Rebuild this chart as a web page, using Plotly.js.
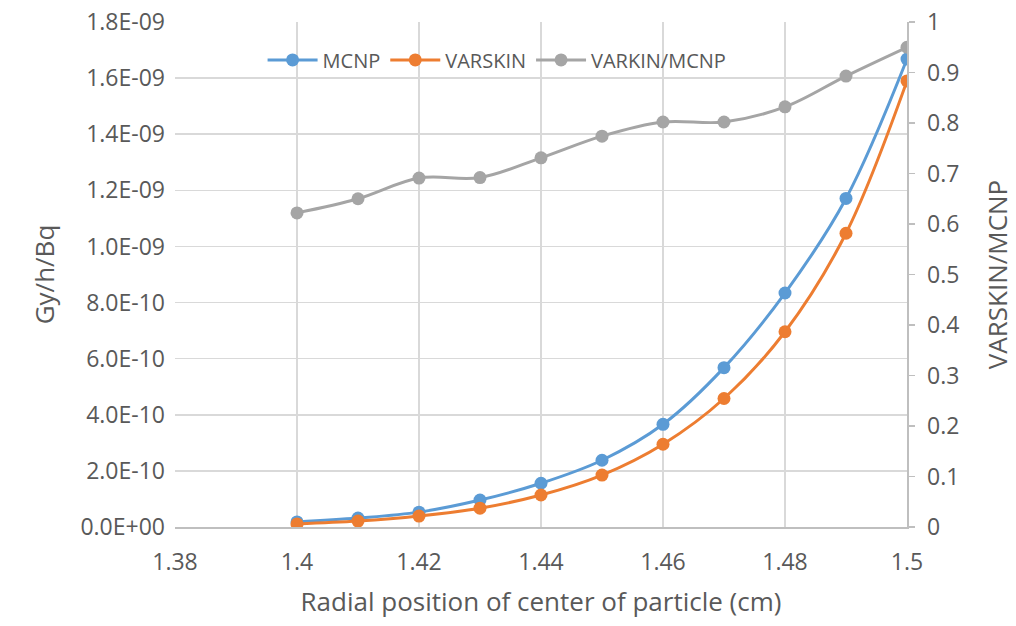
<!DOCTYPE html>
<html>
<head>
<meta charset="utf-8">
<script src="https://cdn.plot.ly/plotly-3.0.1.min.js"></script>
<style>html,body{margin:0;padding:0;background:#fff;}#chart{width:1016px;height:626px;}</style>
</head>
<body>
<div id="chart"></div>
<script>
const radius = [1.40, 1.41, 1.42, 1.43, 1.44, 1.45, 1.46, 1.47, 1.48, 1.49, 1.50];
const mcnp = [1.8e-11, 3.2e-11, 5.3e-11, 9.6e-11, 1.56e-10, 2.38e-10, 3.66e-10, 5.68e-10, 8.34e-10, 1.171e-9, 1.668e-9];
const varskin = [1.1e-11, 2.1e-11, 3.9e-11, 6.7e-11, 1.14e-10, 1.85e-10, 2.95e-10, 4.58e-10, 6.96e-10, 1.047e-9, 1.590e-9];
const ratio = [0.622, 0.650, 0.691, 0.692, 0.731, 0.774, 0.802, 0.802, 0.832, 0.893, 0.950];
const leftTickVals = [0, 2e-10, 4e-10, 6e-10, 8e-10, 1e-9, 1.2e-9, 1.4e-9, 1.6e-9, 1.8e-9];
const leftTickText = ["0.0E+00", "2.0E-10", "4.0E-10", "6.0E-10", "8.0E-10", "1.0E-09", "1.2E-09", "1.4E-09", "1.6E-09", "1.8E-09"];
const xTickVals = [1.38, 1.40, 1.42, 1.44, 1.46, 1.48, 1.50];
const xTickText = ["1.38", "1.4", "1.42", "1.44", "1.46", "1.48", "1.5"];

const font = "'Open Sans', Lato, sans-serif";
function tr(name, y, color, axis) {
  return {
    x: radius, y: y, name: name, type: 'scatter', mode: 'lines+markers',
    yaxis: axis,
    line: {color: color, width: 3, shape: 'spline', smoothing: 1},
    marker: {color: color, size: 13}
  };
}
const data = [
  tr('MCNP', mcnp, '#5B9BD5', 'y'),
  tr('VARSKIN', varskin, '#ED7D31', 'y'),
  tr('VARKIN/MCNP', ratio, '#A5A5A5', 'y2')
];
const layout = {
  width: 1016, height: 626,
  margin: {l: 175, r: 109, t: 22, b: 99},
  paper_bgcolor: '#fff', plot_bgcolor: '#fff',
  font: {family: font, color: '#595959', size: 23},
  showlegend: true,
  legend: {orientation: 'h', x: 0.44, xanchor: 'center', y: 0.925, yanchor: 'middle',
           font: {size: 20, color: '#595959'}, bgcolor: 'rgba(0,0,0,0)', itemwidth: 50},
  xaxis: {
    range: [1.38, 1.5], tickvals: xTickVals, ticktext: xTickText,
    showgrid: true, gridcolor: '#D9D9D9', gridwidth: 1.5,
    showline: true, linecolor: '#BFBFBF', linewidth: 1.5,
    ticks: '', ticklabelstandoff: 14, zeroline: false,
    title: {text: 'Radial position of center of particle (cm)', font: {size: 26, color: '#595959'}, standoff: 16}
  },
  yaxis: {
    range: [0, 1.8e-9], tickvals: leftTickVals, ticktext: leftTickText,
    showgrid: true, gridcolor: '#D9D9D9', gridwidth: 1.5,
    showline: false, zeroline: false, ticks: '', ticklabelstandoff: 9,
    title: {text: 'Gy/h/Bq', font: {size: 26, color: '#595959'}, standoff: 18}
  },
  yaxis2: {
    overlaying: 'y', side: 'right', range: [0, 1], dtick: 0.1, tick0: 0,
    showgrid: false, zeroline: false,
    showline: true, linecolor: '#BFBFBF', linewidth: 1.5,
    ticks: 'outside', ticklen: 6, tickcolor: '#BFBFBF', tickwidth: 1.5,
    ticklabelstandoff: 8,
    title: {text: 'VARSKIN/MCNP', font: {size: 26, color: '#595959'}, standoff: 30}
  }
};
Plotly.newPlot('chart', data, layout, {displayModeBar: false, staticPlot: true});
</script>
</body>
</html>
